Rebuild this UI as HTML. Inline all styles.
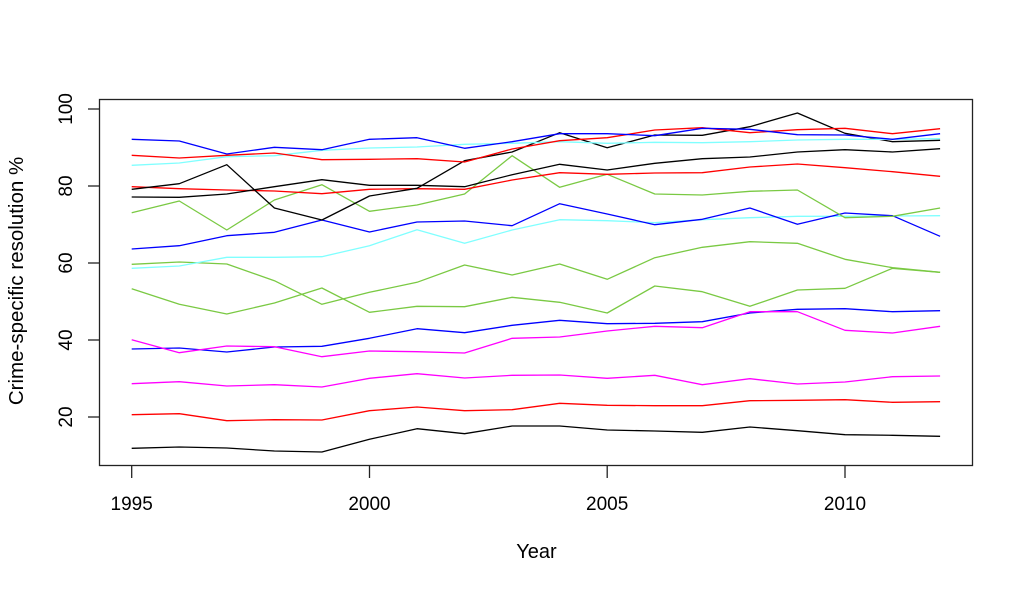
<!DOCTYPE html>
<html>
<head>
<meta charset="utf-8">
<style>
html,body{margin:0;padding:0;background:#fff;}
svg{display:block;}
text{font-family:"Liberation Sans",Arial,sans-serif;font-size:19px;fill:#000;}
</style>
</head>
<body>
<svg width="1024" height="590" viewBox="0 0 1024 590" xmlns="http://www.w3.org/2000/svg">
<rect x="0" y="0" width="1024" height="590" fill="#fff"/>
<g fill="none" stroke-width="1.3" stroke-linejoin="round">
<polyline stroke="#000" points="131.7,448.3 179.3,447 226.8,448 274.4,451 321.9,452 369.5,439.3 417,428.7 464.6,433.7 512.1,426 559.7,426 607.2,430 654.8,431 702.3,432.3 749.9,427 797.4,430.7 845,434.7 892.5,435.3 940.1,436.3"/>
<polyline stroke="#ff0000" points="131.7,414.7 179.3,413.7 226.8,420.7 274.4,419.7 321.9,420 369.5,410.7 417,407 464.6,410.7 512.1,409.7 559.7,403.3 607.2,405.3 654.8,405.7 702.3,405.7 749.9,400.7 797.4,400.3 845,399.7 892.5,402.3 940.1,401.7"/>
<polyline stroke="#ff00ff" points="131.7,383.7 179.3,381.7 226.8,386 274.4,384.7 321.9,387 369.5,378.3 417,373.7 464.6,378 512.1,375.3 559.7,375 607.2,378.3 654.8,375.3 702.3,384.7 749.9,378.7 797.4,384 845,382 892.5,376.7 940.1,376"/>
<polyline stroke="#0000ff" points="131.7,349 179.3,348 226.8,352 274.4,347 321.9,346.3 369.5,338.3 417,328.7 464.6,332.7 512.1,325.3 559.7,320.3 607.2,323.7 654.8,323.3 702.3,321.7 749.9,313 797.4,309.3 845,308.7 892.5,311.7 940.1,310.7"/>
<polyline stroke="#ff00ff" points="131.7,339.7 179.3,352.7 226.8,346 274.4,346.7 321.9,356.7 369.5,351 417,351.7 464.6,353 512.1,338.3 559.7,337 607.2,331 654.8,326.3 702.3,327.7 749.9,311.7 797.4,311.7 845,330.3 892.5,333 940.1,326.3"/>
<polyline stroke="#7ac943" points="131.7,288.7 179.3,304.3 226.8,314 274.4,303 321.9,288 369.5,312.3 417,306.3 464.6,306.7 512.1,297.3 559.7,302.3 607.2,313 654.8,286 702.3,291.7 749.9,306.3 797.4,290 845,288.3 892.5,268.3 940.1,272.3"/>
<polyline stroke="#7ac943" points="131.7,264.3 179.3,262 226.8,264 274.4,280.7 321.9,304.3 369.5,292.3 417,282.3 464.6,265 512.1,275 559.7,264 607.2,279.3 654.8,257.7 702.3,247.3 749.9,241.7 797.4,243.3 845,259.3 892.5,267.7 940.1,272.3"/>
<polyline stroke="#80ffff" points="131.7,268.3 179.3,266 226.8,257.3 274.4,257.3 321.9,256.7 369.5,245.7 417,229.7 464.6,243.3 512.1,230 559.7,219.7 607.2,220.7 654.8,222.7 702.3,219.7 749.9,217.7 797.4,216.3 845,216.3 892.5,216 940.1,215.7"/>
<polyline stroke="#0000ff" points="131.7,249 179.3,245.7 226.8,235.7 274.4,232.3 321.9,220 369.5,232 417,222 464.6,221 512.1,225.7 559.7,203.7 607.2,214 654.8,224.7 702.3,219.3 749.9,208 797.4,224.3 845,213 892.5,215.7 940.1,236.3"/>
<polyline stroke="#7ac943" points="131.7,212.7 179.3,201 226.8,230 274.4,200 321.9,184.7 369.5,211.3 417,205 464.6,194 512.1,155.7 559.7,187.3 607.2,174.3 654.8,194 702.3,195 749.9,191.3 797.4,190 845,217.7 892.5,216.3 940.1,208"/>
<polyline stroke="#ff0000" points="131.7,186.7 179.3,188.7 226.8,190 274.4,191 321.9,193.7 369.5,189.3 417,188.7 464.6,189.3 512.1,180 559.7,172.7 607.2,174.3 654.8,173 702.3,172.7 749.9,167 797.4,164 845,167.7 892.5,171.7 940.1,176.3"/>
<polyline stroke="#000" points="131.7,197 179.3,197.3 226.8,194 274.4,186.7 321.9,179.7 369.5,185.3 417,185.3 464.6,186.7 512.1,174.7 559.7,164.3 607.2,170 654.8,163.3 702.3,158.7 749.9,157 797.4,152 845,149.7 892.5,152 940.1,148.7"/>
<polyline stroke="#000" points="131.7,189.3 179.3,183.7 226.8,164.7 274.4,208 321.9,220 369.5,196 417,188.3 464.6,160.7 512.1,152 559.7,132.7 607.2,147.7 654.8,135 702.3,135.3 749.9,126.7 797.4,113 845,133.3 892.5,141.7 940.1,140.3"/>
<polyline stroke="#80ffff" points="131.7,165.3 179.3,163 226.8,156.7 274.4,155.7 321.9,150.3 369.5,148 417,147 464.6,144.3 512.1,143.3 559.7,141.7 607.2,143.3 654.8,142.3 702.3,142.7 749.9,141.7 797.4,140 845,139.3 892.5,139.3 940.1,138.7"/>
<polyline stroke="#ff0000" points="131.7,155.3 179.3,158 226.8,155.3 274.4,153 321.9,159.7 369.5,159.3 417,158.7 464.6,162 512.1,149 559.7,140.7 607.2,137.7 654.8,130 702.3,127.7 749.9,132.7 797.4,129.7 845,128.3 892.5,133.7 940.1,128.7"/>
<polyline stroke="#0000ff" points="131.7,139.3 179.3,141 226.8,154 274.4,147.3 321.9,149.7 369.5,139.3 417,137.7 464.6,148.3 512.1,141.7 559.7,133.7 607.2,133.7 654.8,135.7 702.3,128.3 749.9,129.3 797.4,134.7 845,135 892.5,139.3 940.1,133.7"/>
</g>
<rect x="99.5" y="99.5" width="873" height="366" fill="none" stroke="#222" stroke-width="1.3"/>
<g stroke="#222" stroke-width="1.3">
<line x1="88" y1="109" x2="99.5" y2="109"/>
<line x1="88" y1="186" x2="99.5" y2="186"/>
<line x1="88" y1="263" x2="99.5" y2="263"/>
<line x1="88" y1="340" x2="99.5" y2="340"/>
<line x1="88" y1="417" x2="99.5" y2="417"/>
<line x1="131.7" y1="465.5" x2="131.7" y2="478"/>
<line x1="369.5" y1="465.5" x2="369.5" y2="478"/>
<line x1="607.2" y1="465.5" x2="607.2" y2="478"/>
<line x1="845" y1="465.5" x2="845" y2="478"/>
</g>
<g text-anchor="middle">
<text transform="translate(72,109) rotate(-90)">100</text>
<text transform="translate(72,186) rotate(-90)">80</text>
<text transform="translate(72,263) rotate(-90)">60</text>
<text transform="translate(72,340) rotate(-90)">40</text>
<text transform="translate(72,417) rotate(-90)">20</text>
<text x="131.7" y="510">1995</text>
<text x="369.5" y="510">2000</text>
<text x="607.2" y="510">2005</text>
<text x="845" y="510">2010</text>
<text x="536.5" y="558" style="font-size:20px">Year</text>
<text transform="translate(23,281) rotate(-90)" style="font-size:20.5px">Crime-specific resolution %</text>
</g>
</svg>
</body>
</html>
